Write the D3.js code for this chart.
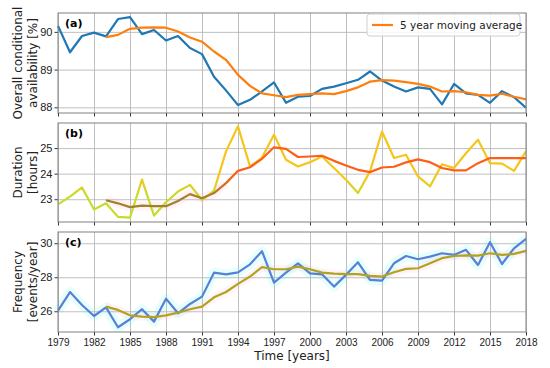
<!DOCTYPE html>
<html>
<head>
<meta charset="utf-8">
<style>
    body { margin: 0; background: #fff; }
    svg { font-family: "DejaVu Sans", sans-serif; }
    .grid line { stroke: #b0b0b0; stroke-width: 0.8; }
    .grid path { display: none; }
    .axis path { display: none; }
    .axis line { stroke: #333; }
    .axis text { fill: #222; }
    .frame { fill: none; stroke: #808080; stroke-width: 1; }
    .line { fill: none; stroke-width: 2.2; stroke-linejoin: round; }
</style>
</head>
<body>
<script src="https://d3js.org/d3.v7.min.js"></script>
<div class="chart"></div>
<script>

var years = [1979, 1980, 1981, 1982, 1983, 1984, 1985, 1986, 1987, 1988,
             1989, 1990, 1991, 1992, 1993, 1994, 1995, 1996, 1997, 1998,
             1999, 2000, 2001, 2002, 2003, 2004, 2005, 2006, 2007, 2008,
             2009, 2010, 2011, 2012, 2013, 2014, 2015, 2016, 2017, 2018];
var maYears = years.slice(4); // moving average starts 1983

var xTicks = [1979, 1982, 1985, 1988, 1991, 1994, 1997, 2000, 2003, 2006, 2009, 2012, 2015, 2018];

var availability = [90.16, 89.46, 89.89, 89.98, 89.88, 90.34, 90.39, 89.94, 90.05, 89.77,
                    89.89, 89.57, 89.41, 88.81, 88.45, 88.06, 88.20, 88.42, 88.66, 88.12,
                    88.28, 88.30, 88.49, 88.55, 88.64, 88.73, 88.95, 88.71, 88.55, 88.42,
                    88.53, 88.49, 88.08, 88.62, 88.37, 88.33, 88.12, 88.43, 88.27, 87.99];
var availabilityMA = [89.86, 89.92, 90.08, 90.11, 90.12, 90.11, 90.01, 89.85, 89.74, 89.48,
                      89.26, 88.86, 88.57, 88.37, 88.32, 88.27, 88.33, 88.35, 88.37, 88.35,
                      88.43, 88.53, 88.68, 88.72, 88.71, 88.67, 88.62, 88.55, 88.42, 88.43,
                      88.40, 88.33, 88.31, 88.36, 88.28, 88.21];

var duration = [22.80, 23.10, 23.46, 22.60, 22.84, 22.31, 22.28, 23.77, 22.36, 22.88,
                23.30, 23.56, 22.97, 23.33, 24.87, 25.85, 24.28, 24.63, 25.52, 24.54,
                24.28, 24.45, 24.67, 24.22, 23.76, 23.24, 24.09, 25.65, 24.61, 24.74,
                23.89, 23.50, 24.37, 24.22, 24.80, 25.33, 24.41, 24.39, 24.11, 24.87];
var durationMA = [22.96, 22.84, 22.69, 22.75, 22.73, 22.73, 22.93, 23.20, 23.04, 23.24,
                  23.63, 24.11, 24.25, 24.58, 25.03, 24.97, 24.65, 24.67, 24.70, 24.50,
                  24.32, 24.15, 24.06, 24.24, 24.27, 24.44, 24.56, 24.45, 24.22, 24.13,
                  24.13, 24.41, 24.61, 24.61, 24.61, 24.61];

var frequency = [26.04, 27.13, 26.37, 25.72, 26.23, 25.06, 25.53, 26.12, 25.39, 26.74,
                 25.88, 26.43, 26.86, 28.27, 28.17, 28.29, 28.76, 29.53, 27.68, 28.27,
                 28.82, 28.23, 28.17, 27.45, 28.14, 28.88, 27.84, 27.80, 28.82, 29.25,
                 29.06, 29.21, 29.41, 29.31, 29.61, 28.72, 30.06, 28.78, 29.70, 30.25];
var frequencyMA = [26.27, 26.08, 25.76, 25.68, 25.65, 25.76, 25.92, 26.12, 26.27, 26.82,
                   27.13, 27.61, 28.04, 28.59, 28.47, 28.47, 28.62, 28.47, 28.27, 28.21,
                   28.18, 28.18, 28.08, 28.04, 28.29, 28.49, 28.53, 28.82, 29.12, 29.25,
                   29.29, 29.27, 29.41, 29.31, 29.37, 29.55];

var width = 550, height = 368;
var left = 58, right = 526;

var svg = d3.select(".chart").append("svg")
    .attr("width", width)
    .attr("height", height);

var defs = svg.append("defs");

var x = d3.scaleLinear().domain([1979, 2018]).range([left, right]);

// one entry per panel
var panels = [
    {id: "a", top: 13, bottom: 113, domain: [87.85, 90.5], ticks: [88, 89, 90],
     raw: availability, ma: availabilityMA, label: ["Overall conditional", "availability [%]"]},
    {id: "b", top: 123, bottom: 222, domain: [22.11, 25.98], ticks: [23, 24, 25],
     raw: duration, ma: durationMA, label: ["Duration", "[hours]"]},
    {id: "c", top: 232, bottom: 332, domain: [24.78, 30.66], ticks: [26, 28, 30],
     raw: frequency, ma: frequencyMA, label: ["Frequency", "[events/year]"]}
];

panels.forEach(function(p, i) {
    var y = d3.scaleLinear().domain(p.domain).range([p.bottom, p.top]);
    var g = svg.append("g");

    // grid
    g.append("g").attr("class", "grid")
        .attr("transform", "translate(0," + p.bottom + ")")
        .call(d3.axisBottom(x).tickValues(xTicks).tickSize(-(p.bottom - p.top)).tickFormat(""));
    g.append("g").attr("class", "grid")
        .attr("transform", "translate(" + left + ",0)")
        .call(d3.axisLeft(y).tickValues(p.ticks).tickSize(-(right - left)).tickFormat(""));

    // axes
    g.append("g").attr("class", "axis")
        .attr("transform", "translate(" + left + ",0)")
        .call(d3.axisLeft(y).tickValues(p.ticks).tickSize(3.5).tickPadding(2).tickFormat(d3.format("d")))
        .selectAll("text").style("font-size", "11px");
    var xa = g.append("g").attr("class", "axis")
        .attr("transform", "translate(0," + p.bottom + ")")
        .call(d3.axisBottom(x).tickValues(xTicks).tickSize(3.5).tickPadding(3)
              .tickFormat(i == 2 ? d3.format("d") : ""));
    xa.selectAll("text").style("font-size", "10px");

    var line = d3.line()
        .x(function(d) { return x(d[0]); })
        .y(function(d) { return y(d[1]); });
    var rawPts = years.map(function(yr, k) { return [yr, p.raw[k]]; });
    var maPts = maYears.map(function(yr, k) { return [yr, p.ma[k]]; });

    var rawColor, maColor;
    if (p.id == "a") {
        rawColor = "#1f77b4";
        maColor = "#ff7f0e";
    } else if (p.id == "b") {
        var gr = defs.append("linearGradient").attr("id", "gradRawB")
            .attr("gradientUnits", "userSpaceOnUse")
            .attr("x1", 0).attr("x2", 0).attr("y1", y(23.1)).attr("y2", y(23.9));
        gr.append("stop").attr("offset", 0).attr("stop-color", "#c3dd2a");
        gr.append("stop").attr("offset", 1).attr("stop-color", "#f6c51a");
        var gm = defs.append("linearGradient").attr("id", "gradMaB")
            .attr("gradientUnits", "userSpaceOnUse")
            .attr("x1", 0).attr("x2", 0).attr("y1", y(23.0)).attr("y2", y(24.0));
        gm.append("stop").attr("offset", 0).attr("stop-color", "#a08228");
        gm.append("stop").attr("offset", 1).attr("stop-color", "#ff5e17");
        rawColor = "url(#gradRawB)";
        maColor = "url(#gradMaB)";
        g.append("path").datum(maPts.slice(0, 11))
            .attr("class", "line").attr("d", line)
            .style("stroke", "#ff99cc").style("stroke-opacity", 0.13).style("stroke-width", 9);
    } else {
        rawColor = "#5a7fd6";
        maColor = "#b0a41c";
        g.append("path").datum(rawPts)
            .attr("class", "line").attr("d", line)
            .style("stroke", "#33ffee").style("stroke-opacity", 0.12).style("stroke-width", 10);
        g.append("path").datum(maPts)
            .attr("class", "line").attr("d", line)
            .style("stroke", "#ff99cc").style("stroke-opacity", 0.12).style("stroke-width", 8);
    }

    g.append("path").datum(rawPts)
        .attr("class", "line").attr("d", line).style("stroke", rawColor);
    g.append("path").datum(maPts)
        .attr("class", "line").attr("d", line).style("stroke", maColor);

    g.append("rect").attr("class", "frame")
        .attr("x", left).attr("y", p.top)
        .attr("width", right - left).attr("height", p.bottom - p.top);

    g.append("text")
        .attr("x", left + 7).attr("y", p.top + 14)
        .style("font-size", "11px").style("font-weight", "bold")
        .text("(" + p.id + ")");

    // y label, two lines
    var cy = (p.top + p.bottom) / 2;
    p.label.forEach(function(t, j) {
        g.append("text")
            .attr("transform", "translate(" + (22 + j * 15) + "," + cy + ") rotate(-90)")
            .attr("text-anchor", "middle")
            .style("font-size", "12px").style("fill", "#222")
            .text(t);
    });
});

svg.append("text")
    .attr("x", (left + right) / 2).attr("y", 360)
    .attr("text-anchor", "middle")
    .style("font-size", "12px").style("fill", "#222")
    .text("Time [years]");

// legend
var lg = svg.append("g");
lg.append("rect")
    .attr("x", 367).attr("y", 14).attr("width", 153).attr("height", 22).attr("rx", 3)
    .style("fill", "#fff").style("fill-opacity", 0.85).style("stroke", "#d0d0d0");
lg.append("line")
    .attr("x1", 372).attr("x2", 393).attr("y1", 25).attr("y2", 25)
    .style("stroke", "#ff7f0e").style("stroke-width", 2.2);
lg.append("text")
    .attr("x", 400).attr("y", 29)
    .style("font-size", "10.5px").style("fill", "#222")
    .text("5 year moving average");

</script>
</body>
</html>
